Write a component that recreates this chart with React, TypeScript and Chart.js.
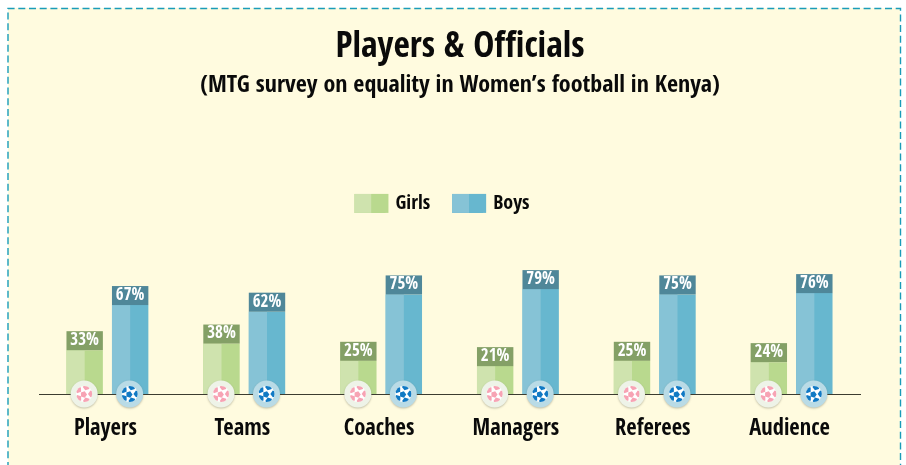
import React, { useEffect, useRef } from "react";
import { Chart, registerables } from "chart.js";

Chart.register(...registerables);

const categories = ["Players", "Teams", "Coaches", "Managers", "Referees", "Audience"];
const girls = [33, 38, 25, 21, 25, 24];
const boys = [67, 62, 75, 79, 75, 76];
const titleText = "Players & Officials";
const subtitleText = "(MTG survey on equality in Women’s football in Kenya)";
const FONT = '"Open Sans Condensed", "Liberation Sans", sans-serif';

const themes = [
  { light: "#cfe3ae", dark: "#b9d98e", tag: "#84a066", ring: "#eef3e8", spot: "#f7a3b4" },
  { light: "#86c3d6", dark: "#67b7cf", tag: "#4f8799", ring: "#b9dbe6", spot: "#1079c4" },
];

function drawBall(ctx: CanvasRenderingContext2D, x: number, y: number, ring: string, spot: string) {
  ctx.save();
  ctx.shadowColor = "rgba(90,90,70,0.35)";
  ctx.shadowBlur = 2;
  ctx.shadowOffsetY = 1;
  ctx.fillStyle = ring;
  ctx.beginPath();
  ctx.arc(x, y, 13.5, 0, Math.PI * 2);
  ctx.fill();
  ctx.restore();
  ctx.save();
  ctx.fillStyle = "#ffffff";
  ctx.beginPath();
  ctx.arc(x, y, 8, 0, Math.PI * 2);
  ctx.fill();
  ctx.clip();
  ctx.fillStyle = spot;
  const poly = (cx: number, cy: number, r: number, rot: number) => {
    ctx.beginPath();
    for (let i = 0; i < 5; i++) {
      const a = rot + (i * 2 * Math.PI) / 5;
      ctx.lineTo(cx + r * Math.cos(a), cy + r * Math.sin(a));
    }
    ctx.closePath();
    ctx.fill();
  };
  const tilt = -Math.PI / 2 + 0.3;
  poly(x - 0.5, y + 0.5, 3.4, tilt);
  for (let i = 0; i < 5; i++) {
    const a = tilt + (i * 2 * Math.PI) / 5;
    poly(x + 7.4 * Math.cos(a), y + 7.4 * Math.sin(a), 3.6, a + Math.PI);
  }
  ctx.restore();
}

const decorPlugin = {
  id: "decor",
  beforeDraw(chart: any) {
    const { ctx, width, height } = chart;
    ctx.save();
    ctx.fillStyle = "#ffffff";
    ctx.fillRect(0, 0, width, height);
    ctx.fillStyle = "#fffbdf";
    ctx.fillRect(8, 8, 892, height);
    ctx.strokeStyle = "#199cb9";
    ctx.lineWidth = 1.4;
    ctx.setLineDash([7, 3.7]);
    ctx.beginPath();
    ctx.moveTo(8, height + 4);
    ctx.lineTo(8, 8.5);
    ctx.lineTo(900.5, 8.5);
    ctx.lineTo(900.5, height + 4);
    ctx.stroke();
    ctx.restore();
  },
  afterLayout(chart: any) {
    // The title block is centred a little right of the plot, the legend a little left.
    const shift = (b: any, dx: number) => {
      b.left += dx;
      b.right += dx;
    };
    chart.boxes.forEach((b: any) => {
      if (b.position !== "top") return;
      shift(b, b === chart.legend ? -7.5 : 10.5);
    });
  },
  afterDatasetsDraw(chart: any) {
    const { ctx } = chart;
    const tagH = 19;
    chart.data.datasets.forEach((ds: any, di: number) => {
      const theme = themes[di];
      chart.getDatasetMeta(di).data.forEach((el: any, i: number) => {
        const { x, y, base, width } = el.getProps(["x", "y", "base", "width"], true);
        const left = x - width / 2;
        ctx.fillStyle = theme.light;
        ctx.fillRect(left, y, width / 2, base - y);
        ctx.fillStyle = theme.tag;
        ctx.fillRect(left, y - tagH, width, tagH);
        ctx.fillStyle = "#ffffff";
        ctx.font = `bold 17px ${FONT}`;
        ctx.textAlign = "center";
        ctx.textBaseline = "middle";
        ctx.fillText(`${ds.data[i]}%`, x, y - tagH / 2);
      });
    });
    chart.data.datasets.forEach((_: any, di: number) => {
      const theme = themes[di];
      chart.getDatasetMeta(di).data.forEach((el: any) => {
        drawBall(ctx, el.x - 0.5, el.base, theme.ring, theme.spot);
      });
    });
  },
  afterDraw(chart: any) {
    // Legend swatches are two equal halves, light then dark.
    const { ctx, legend } = chart;
    if (!legend?.legendItems) return;
    const opts = legend.options.labels;
    legend.legendHitBoxes.forEach((h: any, i: number) => {
      const top = h.top + (h.height - opts.boxHeight) / 2;
      ctx.fillStyle = themes[i].light;
      ctx.fillRect(h.left, top, 17, opts.boxHeight);
      ctx.fillStyle = themes[i].dark;
      ctx.fillRect(h.left + 17, top, 17, opts.boxHeight);
    });
  },
};

export default function App() {
  const ref = useRef<HTMLCanvasElement | null>(null);
  useEffect(() => {
    document.body.style.margin = "0";
    const chart = new Chart(ref.current as HTMLCanvasElement, {
      type: "bar",
      data: {
        labels: categories,
        datasets: [
          { label: "Girls", data: girls, backgroundColor: themes[0].dark, categoryPercentage: 0.665, barPercentage: 0.8 },
          { label: "Boys", data: boys, backgroundColor: themes[1].dark, categoryPercentage: 0.665, barPercentage: 0.8 },
        ],
      },
      options: {
        animation: false,
        responsive: false,
        layout: { padding: { left: 39, right: 46, top: 0, bottom: 0 } },
        scales: {
          x: {
            grid: { display: false, drawTicks: false },
            border: { display: true, color: "#3c3c30", width: 1 },
            ticks: { color: "#0a0a0a", font: { family: FONT, size: 22.5, weight: "bold" }, padding: 22, labelOffset: -2 },
          },
          y: { display: false, min: 0, max: 128.5 },
        },
        plugins: {
          title: {
            display: true,
            text: titleText,
            color: "#0a0a0a",
            font: { family: FONT, size: 35.5, weight: "bold" },
            padding: { top: 26, bottom: 0 },
          },
          subtitle: {
            display: true,
            text: subtitleText,
            color: "#0a0a0a",
            font: { family: FONT, size: 24, weight: "bold" },
            padding: { top: 3, bottom: 71 },
          },
          legend: {
            position: "top",
            labels: {
              boxWidth: 31,
              boxHeight: 19,
              color: "#0a0a0a",
              font: { family: FONT, size: 20, weight: "bold" },
              padding: 22,
            },
          },
          tooltip: { enabled: false },
        },
      },
      plugins: [decorPlugin],
    } as any);
    return () => chart.destroy();
  }, []);
  return <canvas ref={ref} width={906} height={465} style={{ display: "block" }} />;
}
